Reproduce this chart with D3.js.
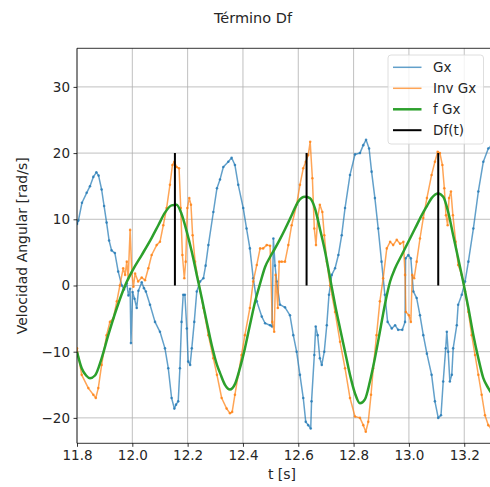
<!DOCTYPE html>
<html><head><meta charset="utf-8">
<script src="https://cdn.jsdelivr.net/npm/d3@7"></script>
<style>body{margin:0;background:#fff}svg{display:block}text{font-family:"DejaVu Sans",sans-serif;fill:#262626}</style>
</head><body><div id="chart"></div>
<script>
const title = "Término Df";
const xLabel = "t [s]";
const yLabel = "Velocidad Angular [rad/s]";
const seriesNames = ["Gx", "Inv Gx", "f Gx", "Df(t)"];
const xTicks = [11.8, 12.0, 12.2, 12.4, 12.6, 12.8, 13.0, 13.2];
const yTicks = [-20, -10, 0, 10, 20, 30];

const tGx = [11.800,11.805,11.818,11.835,11.847,11.859,11.870,11.878,11.889,11.898,11.907,11.916,11.925,11.937,11.949,11.962,11.970,11.980,11.986,11.992,11.995,12.001,12.008,12.016,12.022,12.034,12.042,12.049,12.064,12.082,12.100,12.118,12.130,12.142,12.152,12.158,12.166,12.172,12.178,12.184,12.190,12.197,12.202,12.209,12.215,12.224,12.233,12.245,12.257,12.265,12.275,12.293,12.306,12.317,12.329,12.347,12.359,12.371,12.383,12.401,12.413,12.425,12.437,12.450,12.468,12.480,12.498,12.505,12.510,12.516,12.522,12.534,12.552,12.570,12.582,12.594,12.606,12.618,12.627,12.636,12.645,12.648,12.658,12.663,12.670,12.678,12.685,12.694,12.703,12.711,12.721,12.733,12.745,12.757,12.769,12.787,12.805,12.823,12.835,12.845,12.856,12.865,12.877,12.889,12.901,12.913,12.923,12.938,12.950,12.961,12.976,12.986,12.988,12.998,13.007,13.016,13.028,13.040,13.052,13.065,13.082,13.094,13.106,13.116,13.124,13.133,13.137,13.142,13.148,13.155,13.160,13.173,13.178,13.191,13.203,13.215,13.233,13.251,13.269,13.287,13.297];
const vGx = [9.3,9.8,12.5,14.0,15.0,16.4,17.1,16.6,14.5,12.0,9.5,6.8,5.3,4.9,2.1,0.0,-0.6,0.3,-1.5,-0.5,-8.7,-1.0,-2.0,-3.4,-0.8,0.5,-0.4,-0.9,-2.9,-5.5,-7.0,-9.5,-12.5,-17.0,-18.6,-18.0,-17.5,-12.5,-5.5,-1.4,-1.4,-6.5,-11.5,-12.0,-9.5,-5.5,-0.9,0.6,1.1,3.0,6.1,11.1,14.7,16.0,17.9,18.7,19.3,18.2,15.2,11.7,8.6,5.6,1.1,-2.4,-4.7,-5.7,-6.0,-6.2,7.1,3.0,0.6,-2.9,-3.3,-4.5,-7.5,-10.0,-13.5,-17.0,-20.6,-21.1,-21.6,-17.5,-10.5,-6.2,-7.5,-11.0,-12.0,-10.0,-6.0,-1.4,1.6,2.6,4.6,7.6,11.7,16.7,19.8,20.0,21.2,22.0,20.7,17.2,13.2,8.6,3.6,-1.4,-5.5,-6.5,-6.0,-6.7,-6.7,-5.5,4.1,4.6,4.1,-0.9,-1.9,-4.5,-7.5,-10.3,-13.5,-17.5,-20.0,-19.6,-14.5,-9.5,-7.0,-10.0,-14.5,-13.5,-9.5,-6.0,-2.9,-1.4,0.6,3.6,8.6,14.2,18.7,20.7,21.0];

const tInv = [11.800,11.817,11.841,11.859,11.868,11.877,11.889,11.907,11.919,11.931,11.944,11.955,11.967,11.974,11.980,11.985,11.992,11.998,12.004,12.010,12.021,12.034,12.046,12.058,12.070,12.088,12.100,12.112,12.124,12.136,12.145,12.152,12.160,12.169,12.175,12.181,12.188,12.193,12.199,12.206,12.212,12.218,12.227,12.239,12.257,12.275,12.293,12.306,12.323,12.341,12.353,12.361,12.371,12.383,12.395,12.407,12.425,12.437,12.450,12.462,12.473,12.486,12.498,12.506,12.513,12.518,12.526,12.531,12.540,12.552,12.564,12.576,12.594,12.606,12.618,12.627,12.636,12.643,12.651,12.658,12.664,12.670,12.678,12.687,12.694,12.703,12.715,12.733,12.751,12.769,12.787,12.805,12.823,12.835,12.844,12.853,12.863,12.871,12.883,12.895,12.907,12.920,12.932,12.943,12.956,12.968,12.980,12.986,12.989,13.000,13.007,13.012,13.019,13.028,13.040,13.052,13.065,13.082,13.094,13.104,13.112,13.121,13.128,13.134,13.140,13.145,13.152,13.159,13.169,13.178,13.191,13.203,13.215,13.227,13.239,13.251,13.263,13.275,13.287,13.297];
const vInv = [-9.5,-13.5,-15.5,-16.5,-17.0,-15.5,-12.0,-7.5,-5.5,-5.0,-2.4,0.0,2.6,1.6,3.6,1.0,8.4,2.0,-0.2,1.8,0.6,1.2,0.8,2.6,4.6,6.1,6.6,9.1,11.7,15.2,18.2,18.7,17.9,17.7,11.7,4.6,1.1,3.6,11.7,13.2,12.2,7.6,3.6,0.6,-3.4,-7.5,-11.0,-13.5,-17.0,-18.6,-19.3,-19.1,-16.5,-13.5,-10.5,-7.5,-3.4,0.6,3.1,5.6,5.6,6.1,6.0,-5.5,-7.0,1.6,-3.4,3.6,3.6,3.6,6.1,9.1,12.2,15.2,17.7,18.7,19.7,21.7,16.2,8.6,6.1,10.2,12.2,11.1,7.6,3.6,0.0,-4.0,-8.5,-12.5,-17.0,-19.8,-20.0,-21.1,-22.1,-20.6,-16.5,-12.5,-7.5,-2.4,1.1,5.6,6.6,6.1,6.9,6.3,6.6,1.6,-4.0,-4.5,-5.5,1.6,1.1,3.6,7.1,10.2,13.2,16.7,18.7,20.2,20.0,18.2,14.7,10.6,9.1,13.2,14.2,10.6,6.6,3.1,1.6,-0.9,-4.0,-7.5,-10.5,-13.5,-16.5,-19.6,-21.1,-21.6];

const tF = [11.800,11.817,11.833,11.847,11.865,11.889,11.913,11.944,11.974,12.004,12.034,12.070,12.094,12.118,12.142,12.160,12.178,12.197,12.215,12.233,12.251,12.269,12.287,12.306,12.317,12.335,12.353,12.371,12.389,12.407,12.425,12.443,12.462,12.480,12.498,12.516,12.534,12.552,12.576,12.600,12.624,12.642,12.660,12.678,12.697,12.715,12.733,12.751,12.769,12.787,12.805,12.823,12.841,12.859,12.877,12.895,12.913,12.932,12.950,12.974,12.998,13.022,13.046,13.065,13.082,13.106,13.124,13.142,13.160,13.178,13.196,13.215,13.233,13.251,13.269,13.287,13.297];
const vF = [-10.0,-12.5,-13.6,-14.0,-13.6,-11.0,-7.5,-3.4,0.0,2.5,4.6,7.2,9.1,11.0,12.1,12.2,10.8,8.1,5.1,1.6,-1.9,-5.5,-9.0,-12.0,-13.2,-15.0,-15.7,-14.9,-12.5,-9.5,-6.0,-2.6,0.3,2.8,4.3,5.6,7.0,8.5,10.6,12.7,13.4,13.2,11.7,8.6,5.1,1.1,-2.9,-6.5,-10.0,-13.5,-16.3,-17.8,-17.2,-14.5,-11.0,-7.0,-2.9,0.6,2.6,4.6,6.6,8.6,10.6,12.0,13.2,13.9,13.4,11.1,7.6,4.1,0.6,-3.4,-7.5,-11.0,-14.0,-15.5,-16.2];

const dfTimes = [12.154, 12.630, 13.106];
const dfValues = [20, 20, 20];

const colors = ["#1f77b4", "#ff7f0e", "#2ca02c", "#000000"];

const W = 490, H = 487;
const svg = d3.select("#chart").append("svg").attr("width", W).attr("height", H);
const x = d3.scaleLinear().domain([11.8, 13.3]).range([77, 491.9]);
const y = d3.scaleLinear().domain([-23.84, 35.83]).range([443.3, 48.3]);
const L = 77, R = 492, T = 48.3, B = 443.3;

svg.append("defs").append("clipPath").attr("id", "clip")
  .append("rect").attr("x", L).attr("y", T).attr("width", R - L).attr("height", B - T);

// grid
const grid = svg.append("g").attr("stroke", "#b0b0b0").attr("stroke-width", 0.8);
xTicks.forEach(t => grid.append("line").attr("x1", x(t)).attr("x2", x(t)).attr("y1", T).attr("y2", B));
yTicks.forEach(t => grid.append("line").attr("x1", L).attr("x2", R).attr("y1", y(t)).attr("y2", y(t)));

// axes
const xAxis = d3.axisBottom(x).tickValues(xTicks).tickFormat(d3.format(".1f")).tickSizeOuter(0).tickSize(3.5).tickPadding(3.5);
const yAxis = d3.axisLeft(y).tickValues(yTicks).tickFormat(d3.format("d")).tickSizeOuter(0).tickSize(3.5).tickPadding(3.5);
const gx = svg.append("g").attr("transform", `translate(0,${B})`).call(xAxis);
const gy = svg.append("g").attr("transform", `translate(${L},0)`).call(yAxis);
[gx, gy].forEach(g => {
  g.select(".domain").remove();
  g.selectAll("line").attr("stroke", "#000").attr("stroke-width", 0.8);
  g.selectAll("text").attr("font-size", "13.5px").attr("fill", "#262626").style("font-family", "DejaVu Sans");
});
gy.selectAll("text").text(d => d < 0 ? "\u2212" + Math.abs(d) : d);

const dataArea = svg.append("g").attr("clip-path", "url(#clip)");
const line = d3.line().x(d => x(d[0])).y(d => y(d[1]));

function drawSeries(ts, vs, color) {
  const pts = ts.map((t, i) => [t, vs[i]]);
  dataArea.append("path").attr("d", line(pts)).attr("fill", "none")
    .attr("stroke", color).attr("stroke-width", 1.5).attr("stroke-opacity", 0.7).attr("stroke-linejoin", "round");
  dataArea.append("g").selectAll("circle").data(pts).join("circle")
    .attr("cx", d => x(d[0])).attr("cy", d => y(d[1])).attr("r", 1.3)
    .attr("fill", color).attr("fill-opacity", 0.75);
}
drawSeries(tGx, vGx, colors[0]);
drawSeries(tInv, vInv, colors[1]);

const fpts = tF.map((t, i) => [t, vF[i]]);
dataArea.append("path").attr("d", d3.line().x(d => x(d[0])).y(d => y(d[1])).curve(d3.curveMonotoneX)(fpts))
  .attr("fill", "none").attr("stroke", colors[2]).attr("stroke-width", 2.5).attr("stroke-linejoin", "round");

dataArea.selectAll("line.df").data(dfTimes).join("line").attr("class", "df")
  .attr("x1", d => x(d)).attr("x2", d => x(d)).attr("y1", y(0)).attr("y2", (d, i) => y(dfValues[i]))
  .attr("stroke", "#000").attr("stroke-width", 2);

// spines
const sp = svg.append("g").attr("stroke", "#000").attr("stroke-width", 0.8);
sp.append("line").attr("x1", L).attr("x2", L).attr("y1", T).attr("y2", B);
sp.append("line").attr("x1", L).attr("x2", R).attr("y1", T).attr("y2", T);
sp.append("line").attr("x1", L).attr("x2", R).attr("y1", B).attr("y2", B);
sp.append("line").attr("x1", R).attr("x2", R).attr("y1", T).attr("y2", B);

// legend
const lg = svg.append("g");
lg.append("rect").attr("x", 388).attr("y", 55).attr("width", 95.5).attr("height", 89)
  .attr("rx", 3).attr("fill", "#fff").attr("fill-opacity", 0.8).attr("stroke", "#d6d6d6").attr("stroke-width", 0.8);
const ly = [67.3, 88.3, 109.3, 130.2];
seriesNames.forEach((n, i) => {
  lg.append("line").attr("x1", 393).attr("x2", 421.5).attr("y1", ly[i]).attr("y2", ly[i])
    .attr("stroke", colors[i]).attr("stroke-width", i === 2 ? 2.5 : (i === 3 ? 2 : 1.5))
    .attr("stroke-opacity", i < 2 ? 0.7 : 1);
  lg.append("text").attr("x", 433).attr("y", ly[i]).attr("dy", "0.35em").attr("font-size", "13.5px").text(n);
});

// titles
svg.append("text").attr("x", 253).attr("y", 18).attr("dy", "0.35em").attr("text-anchor", "middle").attr("font-size", "14.5px").text(title);
svg.append("text").attr("x", 282).attr("y", 478).attr("dy", "0.1em").attr("text-anchor", "middle").attr("font-size", "14px").text(xLabel);
svg.append("text").attr("transform", "translate(22,245.8) rotate(-90)").attr("dy", "0.35em").attr("text-anchor", "middle").attr("font-size", "14px").text(yLabel);
</script></body></html>
